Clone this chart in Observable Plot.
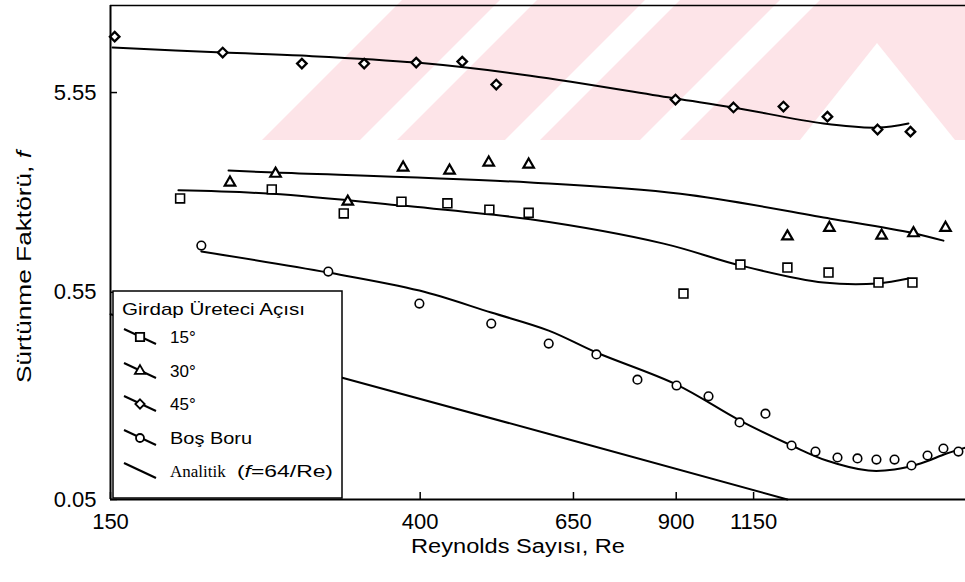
<!DOCTYPE html>
<html>
<head>
<meta charset="utf-8">
<script src="https://cdn.jsdelivr.net/npm/d3@7"></script>
<script src="https://cdn.jsdelivr.net/npm/@observablehq/plot@0.6"></script>
<style>
  html, body { margin: 0; padding: 0; background: #fff; }
  #chart svg { display: block; }
</style>
</head>
<body>
<div id="chart"></div>
<script>
// ---------- tick labels ----------
const xTicks = [150, 400, 650, 900, 1150];
const yTicks = [0.05, 0.55, 5.55];
const xTitle = "Reynolds Sayısı, Re";
const yTitle = "Sürtünme Faktörü, ";
const legendTitle = "Girdap Üreteci Açısı";
const legendNames = ["15°", "30°", "45°", "Boş Boru"];

// ---------- 45° ----------
const re45 = [152, 214, 275, 335, 395, 457, 509, 898, 1079, 1264, 1453, 1703, 1890];
const f45  = [10.6, 8.82, 7.76, 7.76, 7.85, 7.94, 6.09, 5.12, 4.67, 4.72, 4.20, 3.62, 3.53];
const re45Fit = [151, 214, 275, 395, 567, 898, 1079, 1435, 1703, 1878];
const f45Fit  = [9.34, 8.82, 8.51, 7.85, 6.75, 5.18, 4.67, 3.88, 3.70, 3.88];

// ---------- 30° ----------
const re30 = [219, 253, 318, 379, 439, 497, 564, 1280, 1462, 1725, 1908, 2112];
const f30  = [1.96, 2.17, 1.57, 2.33, 2.25, 2.47, 2.41, 1.05, 1.16, 1.06, 1.09, 1.16];
const re30Fit = [218, 253, 567, 912, 1467, 1908, 2098];
const f30Fit  = [2.25, 2.20, 1.96, 1.72, 1.29, 1.09, 1.00];

// ---------- 15° ----------
const re15 = [187, 250, 314, 377, 436, 498, 564, 921, 1103, 1280, 1458, 1708, 1902];
const f15  = [1.63, 1.81, 1.37, 1.57, 1.54, 1.43, 1.38, 0.542, 0.758, 0.732, 0.691, 0.616, 0.616];
const re15Fit = [186, 250, 377, 567, 865, 1103, 1435, 1703, 1878];
const f15Fit  = [1.79, 1.72, 1.50, 1.28, 0.966, 0.750, 0.616, 0.609, 0.645];

// ---------- Boş Boru ----------
const reBos = [200, 299, 399, 501, 601, 699, 796, 901, 997, 1100, 1194, 1297, 1399, 1500, 1598, 1697, 1797, 1896, 1995, 2098, 2200];
const fBos  = [0.945, 0.699, 0.483, 0.383, 0.304, 0.268, 0.200, 0.187, 0.165, 0.122, 0.135, 0.0934, 0.0871, 0.0813, 0.0804, 0.0794, 0.0794, 0.0741, 0.0832, 0.0902, 0.0871];
const reBosFit = [200, 299, 399, 501, 601, 699, 901, 1100, 1297, 1449, 1654, 1797, 1951, 2119, 2250];
const fBosFit  = [0.882, 0.691, 0.561, 0.435, 0.353, 0.274, 0.189, 0.125, 0.0934, 0.0785, 0.0699, 0.0707, 0.0758, 0.0851, 0.0912];

// ---------- Analitik (f = 64/Re) ----------
const reAn = [150, 300, 600, 1280];
const fAn  = [0.427, 0.213, 0.107, 0.05];

// ---------- axis domains ----------
const xDomain = [150, 2250];
const yDomain = [0.05, 15.2];

const pts = (xs, ys) => xs.map((x, i) => ({re: x, f: ys[i]}));

const lineStyle = {x: "re", y: "f", stroke: "black", strokeWidth: 2, curve: "catmull-rom"};
const dotStyle = {x: "re", y: "f", fill: "white", stroke: "black"};
const FONT = "'Liberation Sans', Arial, sans-serif";

const plot = Plot.plot({
  width: 965,
  height: 582,
  marginTop: 5,
  marginBottom: 83,
  marginLeft: 110,
  marginRight: 0,
  style: {fontFamily: FONT, color: "black", background: "transparent", overflow: "visible"},
  x: {type: "log", domain: xDomain},
  y: {type: "log", domain: yDomain},
  marks: [
    Plot.ruleY([yDomain[1]], {stroke: "black", strokeWidth: 1.5}),
    // fitted curves
    Plot.line(pts(reAn, fAn), {x: "re", y: "f", stroke: "black", strokeWidth: 2}),
    Plot.line(pts(reBosFit, fBosFit), lineStyle),
    Plot.line(pts(re15Fit, f15Fit), lineStyle),
    Plot.line(pts(re30Fit, f30Fit), lineStyle),
    Plot.line(pts(re45Fit, f45Fit), lineStyle),
    // measured points
    Plot.dot(pts(reBos, fBos), {...dotStyle, symbol: "circle", r: 4.3, strokeWidth: 1.6}),
    Plot.dot(pts(re15, f15), {...dotStyle, symbol: "square", r: 5, strokeWidth: 1.6}),
    Plot.dot(pts(re30, f30), {...dotStyle, symbol: "triangle", r: 3.9, strokeWidth: 2.2}),
    Plot.dot(pts(re45, f45), {...dotStyle, symbol: "diamond2", r: 4.3, strokeWidth: 2.3}),
    // axes
    Plot.axisX({ticks: xTicks, tickFormat: d => String(d), tickSize: -7, tickPadding: 21, fontSize: 22, label: null, strokeWidth: 1.5}),
    Plot.axisY({ticks: yTicks, tickFormat: () => "", tickSize: -7, label: null, strokeWidth: 1.5}),
    Plot.text(yTicks, {y: d => d, text: d => String(d), frameAnchor: "left", textAnchor: "end", dx: -14, fontSize: 22, fill: "black"}),
    Plot.ruleX([xDomain[0]], {stroke: "black", strokeWidth: 2}),
    Plot.ruleY([yDomain[0]], {stroke: "black", strokeWidth: 2})
  ]
});

document.getElementById("chart").appendChild(plot);

// ---------- decoration: faint watermark in the background ----------
const svg = d3.select(plot);
const wm = svg.insert("g", ":first-child").attr("class", "watermark");
wm.append("polygon").attr("points", "262,140 965,140 965,0 402,0").attr("fill", "#fde4e8");
[["360,140 397,140 537,0 500,0"], ["505,140 540,140 680,0 645,0"], ["640,140 680,140 820,0 780,0"], ["800,140 877,43 955,140"]]
  .forEach(p => wm.append("polygon").attr("points", p[0]).attr("fill", "white"));

// ---------- axis titles ----------
svg.append("text")
  .attr("x", 518).attr("y", 553)
  .attr("text-anchor", "middle")
  .attr("font-size", 20)
  .attr("textLength", 214).attr("lengthAdjust", "spacingAndGlyphs")
  .attr("font-family", FONT)
  .text(xTitle);

const yt = svg.append("text")
  .attr("transform", "translate(31,267) rotate(-90)")
  .attr("text-anchor", "middle")
  .attr("font-size", 20)
  .attr("textLength", 232).attr("lengthAdjust", "spacingAndGlyphs")
  .attr("font-family", FONT);
yt.append("tspan").text(yTitle);
yt.append("tspan").attr("font-style", "italic").text("f");

// ---------- legend ----------
const lg = svg.append("g").attr("font-family", FONT).attr("text-anchor", "start");
lg.append("rect").attr("x", 113).attr("y", 291).attr("width", 229).attr("height", 207)
  .attr("fill", "white").attr("stroke", "black").attr("stroke-width", 1.5);
lg.append("text").attr("x", 122).attr("y", 315).attr("font-size", 17)
  .attr("textLength", 183).attr("lengthAdjust", "spacingAndGlyphs").text(legendTitle);

const symbols = [d3.symbolSquare, d3.symbolTriangle, d3.symbolDiamond2, d3.symbolCircle];
const symSizes = [70, 45, 55, 50];
const rowY = [337, 371, 404, 438, 471];
legendNames.forEach((name, i) => {
  const yc = rowY[i];
  lg.append("line").attr("x1", 124).attr("y1", yc - 8).attr("x2", 156).attr("y2", yc + 7)
    .attr("stroke", "black").attr("stroke-width", 2);
  lg.append("path").attr("d", d3.symbol(symbols[i], symSizes[i])())
    .attr("transform", `translate(140,${yc})`)
    .attr("fill", "white").attr("stroke", "black").attr("stroke-width", 1.8);
  const t = lg.append("text").attr("x", 170).attr("y", yc + 6).attr("font-size", 17).text(name);
  if (i === 3) t.attr("textLength", 82).attr("lengthAdjust", "spacingAndGlyphs");
});
// Analitik row
const ya = rowY[4];
lg.append("line").attr("x1", 124).attr("y1", ya - 8).attr("x2", 156).attr("y2", ya + 7)
  .attr("stroke", "black").attr("stroke-width", 2.2);
lg.append("text").attr("x", 170).attr("y", ya + 6).attr("font-size", 17)
  .attr("font-family", "'Liberation Serif', 'Times New Roman', serif").text("Analitik");
const an = lg.append("text").attr("x", 237).attr("y", ya + 6).attr("font-size", 17)
  .attr("textLength", 96).attr("lengthAdjust", "spacingAndGlyphs");
an.append("tspan").text("(");
an.append("tspan").attr("font-style", "italic").text("f");
an.append("tspan").text("=64/Re)");
</script>
</body>
</html>
